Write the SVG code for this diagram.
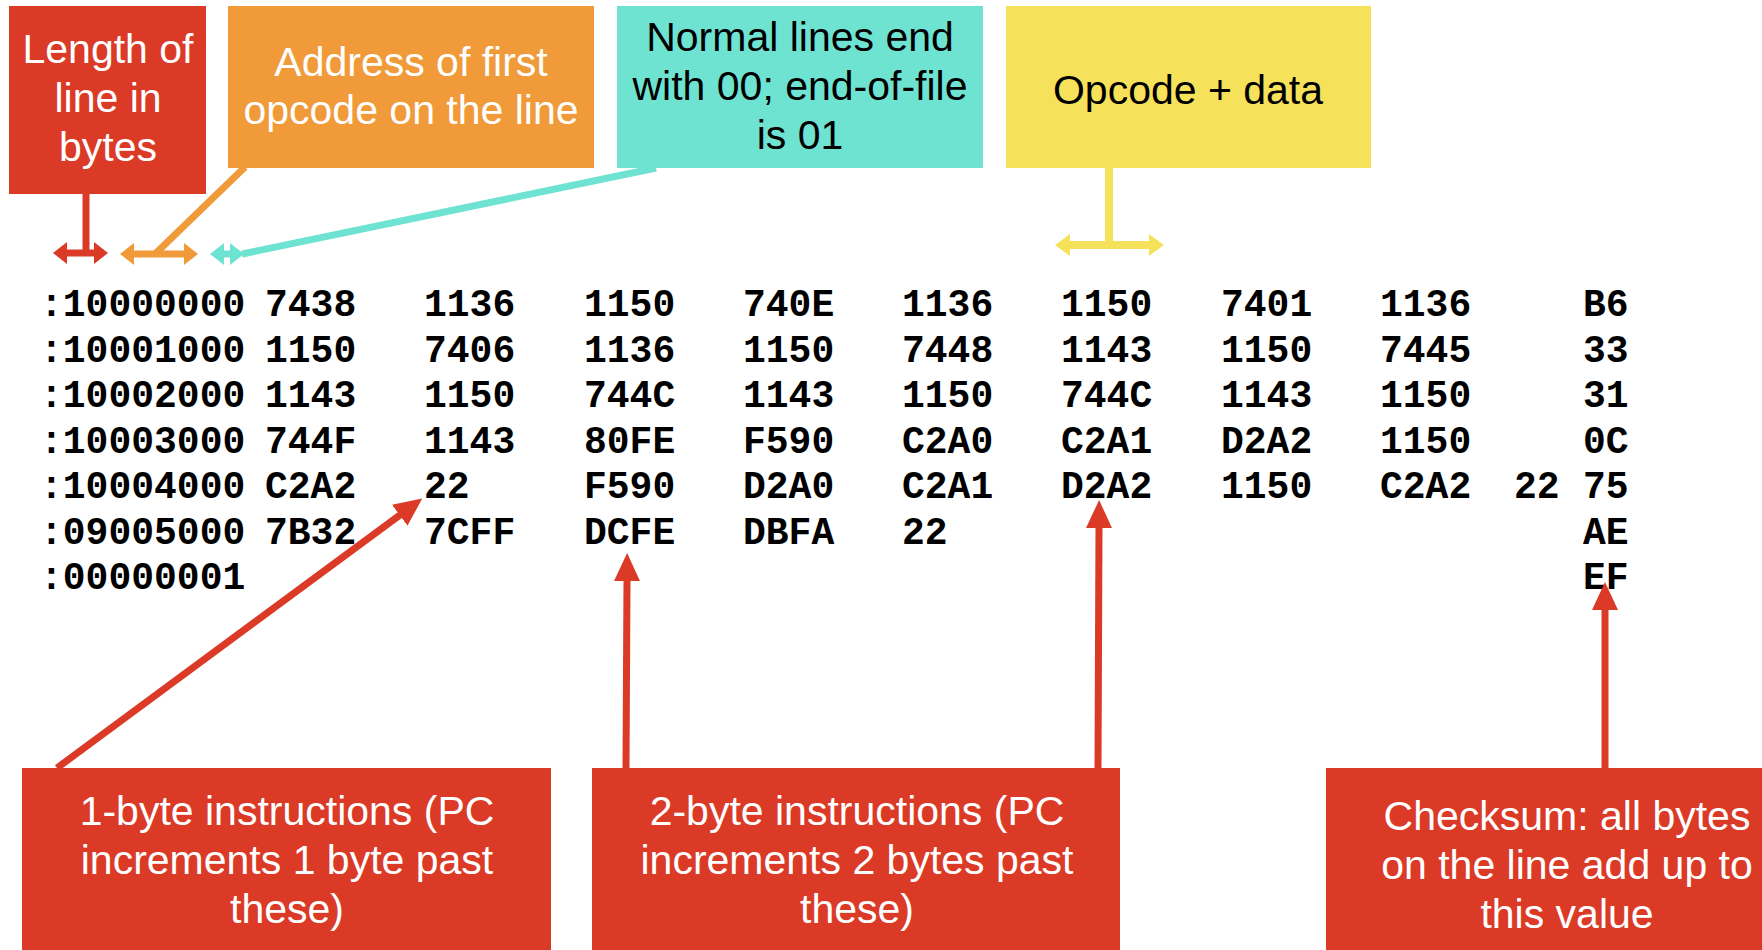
<svg xmlns="http://www.w3.org/2000/svg" width="1762" height="950" viewBox="0 0 1762 950">
<style>
.lbl{font-family:"Liberation Sans",Arial,sans-serif;font-size:41px;text-anchor:middle}
.w{fill:#ffffff}
.k{fill:#000000}
.hex{font-family:"Liberation Mono","Courier New",monospace;font-weight:bold;font-size:38px;fill:#000}
.red{fill:#DB3A27}
.org{fill:#F09A3A}
.tea{fill:#6EE3D1}
.yel{fill:#F5E15A}
.cr{stroke:#DB3A27;stroke-width:7;fill:none}
.co{stroke:#F09A3A;stroke-width:7;fill:none}
.ct{stroke:#6EE3D1;stroke-width:7;fill:none}
.cy{stroke:#F5E15A;stroke-width:8;fill:none}
</style>
<defs>
<marker id="hR" viewBox="0 -13 28 26" refX="1" refY="0" markerWidth="28" markerHeight="26" markerUnits="userSpaceOnUse" orient="auto"><path d="M0,-13 L28,0 L0,13 z" fill="#DB3A27"/></marker>
<marker id="sR" viewBox="0 -11 14 22" refX="1" refY="0" markerWidth="14" markerHeight="22" markerUnits="userSpaceOnUse" orient="auto-start-reverse"><path d="M0,-11 L14,0 L0,11 z" fill="#DB3A27"/></marker>
<marker id="sO" viewBox="0 -11 14 22" refX="1" refY="0" markerWidth="14" markerHeight="22" markerUnits="userSpaceOnUse" orient="auto-start-reverse"><path d="M0,-11 L14,0 L0,11 z" fill="#F09A3A"/></marker>
<marker id="sT" viewBox="0 -11 14 22" refX="1" refY="0" markerWidth="14" markerHeight="22" markerUnits="userSpaceOnUse" orient="auto-start-reverse"><path d="M0,-11 L14,0 L0,11 z" fill="#6EE3D1"/></marker>
<marker id="sY" viewBox="0 -11 15 22" refX="1" refY="0" markerWidth="15" markerHeight="22" markerUnits="userSpaceOnUse" orient="auto-start-reverse"><path d="M0,-11 L15,0 L0,11 z" fill="#F5E15A"/></marker>
</defs>
<rect width="1762" height="950" fill="#ffffff"/>

<g id="length-box">
<rect class="red" x="9" y="6" width="197" height="188"/>
<text class="lbl w" x="108" y="63">Length of</text>
<text class="lbl w" x="108" y="112">line in</text>
<text class="lbl w" x="108" y="161">bytes</text>
</g>

<g id="address-box">
<rect class="org" x="228" y="6" width="366" height="162"/>
<text class="lbl w" x="411" y="76">Address of first</text>
<text class="lbl w" x="411" y="124">opcode on the line</text>
</g>

<g id="type-box">
<rect class="tea" x="617" y="6" width="366" height="162"/>
<text class="lbl k" x="800" y="51">Normal lines end</text>
<text class="lbl k" x="800" y="100">with 00; end-of-file</text>
<text class="lbl k" x="800" y="149">is 01</text>
</g>

<g id="data-box">
<rect class="yel" x="1006" y="6" width="365" height="162"/>
<text class="lbl k" x="1188" y="104">Opcode + data</text>
</g>

<g id="hex-dump" class="hex">
<text x="40" y="316">:10000000</text><text x="265" y="316">7438</text><text x="424" y="316">1136</text><text x="584" y="316">1150</text><text x="743" y="316">740E</text><text x="902" y="316">1136</text><text x="1061" y="316">1150</text><text x="1221" y="316">7401</text><text x="1380" y="316">1136</text><text x="1583" y="316">B6</text>
<text x="40" y="361.5">:10001000</text><text x="265" y="361.5">1150</text><text x="424" y="361.5">7406</text><text x="584" y="361.5">1136</text><text x="743" y="361.5">1150</text><text x="902" y="361.5">7448</text><text x="1061" y="361.5">1143</text><text x="1221" y="361.5">1150</text><text x="1380" y="361.5">7445</text><text x="1583" y="361.5">33</text>
<text x="40" y="407">:10002000</text><text x="265" y="407">1143</text><text x="424" y="407">1150</text><text x="584" y="407">744C</text><text x="743" y="407">1143</text><text x="902" y="407">1150</text><text x="1061" y="407">744C</text><text x="1221" y="407">1143</text><text x="1380" y="407">1150</text><text x="1583" y="407">31</text>
<text x="40" y="452.5">:10003000</text><text x="265" y="452.5">744F</text><text x="424" y="452.5">1143</text><text x="584" y="452.5">80FE</text><text x="743" y="452.5">F590</text><text x="902" y="452.5">C2A0</text><text x="1061" y="452.5">C2A1</text><text x="1221" y="452.5">D2A2</text><text x="1380" y="452.5">1150</text><text x="1583" y="452.5">0C</text>
<text x="40" y="498">:10004000</text><text x="265" y="498">C2A2</text><text x="424" y="498">22</text><text x="584" y="498">F590</text><text x="743" y="498">D2A0</text><text x="902" y="498">C2A1</text><text x="1061" y="498">D2A2</text><text x="1221" y="498">1150</text><text x="1380" y="498">C2A2</text><text x="1514" y="498">22</text><text x="1583" y="498">75</text>
<text x="40" y="543.5">:09005000</text><text x="265" y="543.5">7B32</text><text x="424" y="543.5">7CFF</text><text x="584" y="543.5">DCFE</text><text x="743" y="543.5">DBFA</text><text x="902" y="543.5">22</text><text x="1583" y="543.5">AE</text>
<text x="40" y="589">:00000001</text><text x="1583" y="589">EF</text>
</g>

<g id="one-byte-box">
<rect class="red" x="22" y="768" width="529" height="182"/>
<text class="lbl w" x="287" y="825">1-byte instructions (PC</text>
<text class="lbl w" x="287" y="874">increments 1 byte past</text>
<text class="lbl w" x="287" y="923">these)</text>
</g>

<g id="two-byte-box">
<rect class="red" x="592" y="768" width="528" height="182"/>
<text class="lbl w" x="857" y="825">2-byte instructions (PC</text>
<text class="lbl w" x="857" y="874">increments 2 bytes past</text>
<text class="lbl w" x="857" y="923">these)</text>
</g>

<g id="checksum-box">
<rect class="red" x="1326" y="768" width="436" height="182"/>
<text class="lbl w" x="1567" y="830">Checksum: all bytes</text>
<text class="lbl w" x="1567" y="879">on the line add up to</text>
<text class="lbl w" x="1567" y="928">this value</text>
</g>

<g id="connectors">
<line class="cr" x1="86" y1="194" x2="86" y2="253"/>
<line class="cr" x1="66" y1="253" x2="95" y2="253" marker-start="url(#sR)" marker-end="url(#sR)"/>
<line class="co" x1="245" y1="167" x2="155" y2="254"/>
<line class="co" x1="133" y1="254" x2="185" y2="254" marker-start="url(#sO)" marker-end="url(#sO)"/>
<line class="ct" x1="656" y1="168" x2="242" y2="254"/>
<line class="ct" x1="223" y1="254" x2="231" y2="254" marker-start="url(#sT)" marker-end="url(#sT)"/>
<line class="cy" x1="1109" y1="167" x2="1109" y2="245"/>
<line class="cy" x1="1069" y1="245" x2="1150" y2="245" marker-start="url(#sY)" marker-end="url(#sY)"/>
<line class="cr" x1="57" y1="768" x2="400.5" y2="514.6" marker-end="url(#hR)"/>
<line class="cr" x1="626" y1="768" x2="627" y2="580" marker-end="url(#hR)"/>
<line class="cr" x1="1098" y1="768" x2="1099" y2="527" marker-end="url(#hR)"/>
<line class="cr" x1="1605" y1="768" x2="1605" y2="609" marker-end="url(#hR)"/>
</g>
</svg>
